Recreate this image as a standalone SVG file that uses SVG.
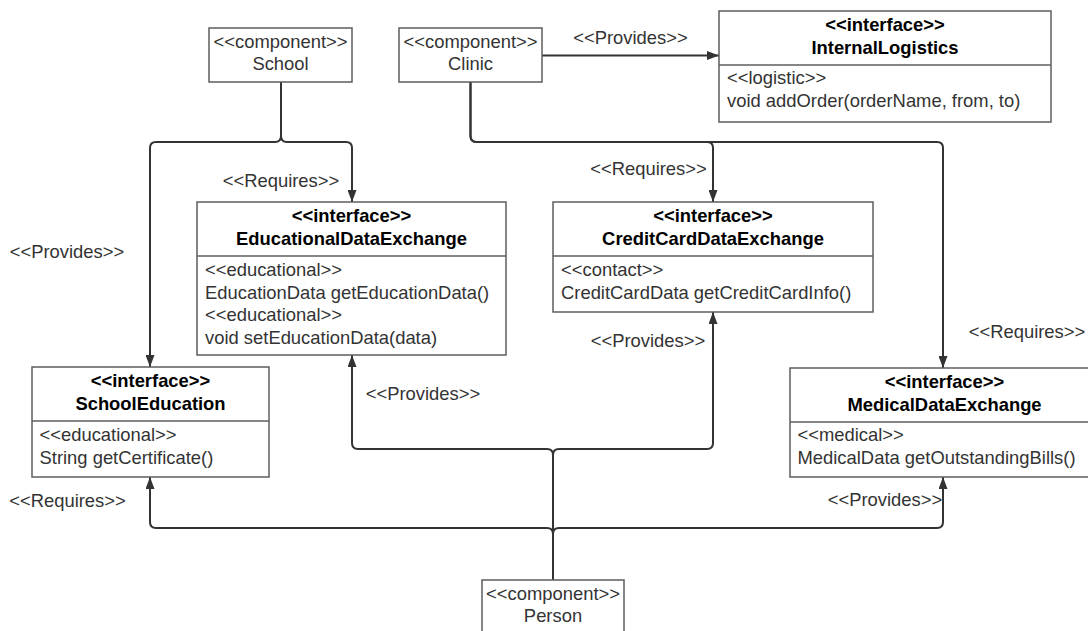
<svg xmlns="http://www.w3.org/2000/svg" width="1088" height="631" viewBox="0 0 1088 631">
  <style>
    text { font-family: "Liberation Sans", Arial, sans-serif; font-size: 18.4px; fill: #333333; }
    .title { font-weight: bold; fill: #000000; text-anchor: middle; }
    .mid { text-anchor: middle; }
    .box { fill: #ffffff; stroke: #5e5e5e; stroke-width: 1.5; }
    .sep { stroke: #5e5e5e; stroke-width: 1.5; }
    .wire { fill: none; stroke: #333333; stroke-width: 2; marker-end: url(#arrow); }
    .plain { fill: none; stroke: #333333; stroke-width: 2; }
  </style>
  <defs>
    <marker id="arrow" markerUnits="userSpaceOnUse" markerWidth="12" markerHeight="9" refX="12" refY="4.5" orient="auto">
      <path d="M0,0 L12,4.5 L0,9 z" fill="#333333"/>
    </marker>
  </defs>
  <rect width="1088" height="631" fill="#ffffff"/>

  <!-- connectors -->
  <g id="connectors">
    <!-- School -->
    <path class="wire" d="M281,82 V136 Q281,142 275,142 H156 Q150,142 150,148 V367"/>
    <path class="wire" d="M281,82 V136 Q281,142 287,142 H346 Q352,142 352,148 V202"/>
    <!-- Clinic -->
    <path class="wire" d="M542,55.5 H719"/>
    <path class="wire" d="M470.5,82 V136 Q470.5,142 476.5,142 H707 Q713,142 713,148 V202"/>
    <path class="wire" d="M470.5,82 V136 Q470.5,142 476.5,142 H937 Q943,142 943,148 V368"/>
    <!-- Person -->
    <path class="wire" d="M553,580 V455 Q553,449 547,449 H358 Q352,449 352,443 V355"/>
    <path class="wire" d="M553,580 V455 Q553,449 559,449 H707 Q713,449 713,443 V312"/>
    <path class="wire" d="M553,580 V534 Q553,528 547,528 H156 Q150,528 150,522 V477"/>
    <path class="wire" d="M553,580 V534 Q553,528 559,528 H937 Q943,528 943,522 V477"/>

    <text class="mid" x="630.5" y="44">&lt;&lt;Provides&gt;&gt;</text>
    <text class="mid" x="281" y="187">&lt;&lt;Requires&gt;&gt;</text>
    <text class="mid" x="67" y="258">&lt;&lt;Provides&gt;&gt;</text>
    <text class="mid" x="648.5" y="175">&lt;&lt;Requires&gt;&gt;</text>
    <text class="mid" x="1027" y="338">&lt;&lt;Requires&gt;&gt;</text>
    <text class="mid" x="423" y="400">&lt;&lt;Provides&gt;&gt;</text>
    <text class="mid" x="648" y="347">&lt;&lt;Provides&gt;&gt;</text>
    <text class="mid" x="67.5" y="507">&lt;&lt;Requires&gt;&gt;</text>
    <text class="mid" x="885" y="506">&lt;&lt;Provides&gt;&gt;</text>
  </g>

  <!-- components -->
  <g id="school">
    <rect class="box" x="209" y="28" width="143" height="54"/>
    <text class="mid" x="280.5" y="48">&lt;&lt;component&gt;&gt;</text>
    <text class="mid" x="280.5" y="70">School</text>
  </g>

  <g id="clinic">
    <rect class="box" x="399" y="28" width="143" height="54"/>
    <text class="mid" x="470.5" y="48">&lt;&lt;component&gt;&gt;</text>
    <text class="mid" x="470.5" y="70">Clinic</text>
  </g>

  <g id="person">
    <rect class="box" x="482" y="580" width="142" height="60"/>
    <text class="mid" x="553" y="600">&lt;&lt;component&gt;&gt;</text>
    <text class="mid" x="553" y="622">Person</text>
  </g>

  <!-- interfaces -->
  <g id="internal-logistics">
    <rect class="box" x="719" y="11" width="332" height="111"/>
    <line class="sep" x1="719" y1="65" x2="1051" y2="65"/>
    <text class="title" x="885" y="31">&lt;&lt;interface&gt;&gt;</text>
    <text class="title" x="885" y="53.5">InternalLogistics</text>
    <text x="727" y="84">&lt;&lt;logistic&gt;&gt;</text>
    <text x="727" y="106.5">void addOrder(orderName, from, to)</text>
  </g>

  <g id="educational-data-exchange">
    <rect class="box" x="197" y="202" width="309" height="153"/>
    <line class="sep" x1="197" y1="256" x2="506" y2="256"/>
    <text class="title" x="351.5" y="222">&lt;&lt;interface&gt;&gt;</text>
    <text class="title" x="351.5" y="244.5">EducationalDataExchange</text>
    <text x="205" y="276">&lt;&lt;educational&gt;&gt;</text>
    <text x="205" y="298.5">EducationData getEducationData()</text>
    <text x="205" y="321">&lt;&lt;educational&gt;&gt;</text>
    <text x="205" y="343.5">void setEducationData(data)</text>
  </g>

  <g id="credit-card-data-exchange">
    <rect class="box" x="553" y="202" width="320" height="110"/>
    <line class="sep" x1="553" y1="256" x2="873" y2="256"/>
    <text class="title" x="713" y="222">&lt;&lt;interface&gt;&gt;</text>
    <text class="title" x="713" y="244.5">CreditCardDataExchange</text>
    <text x="561" y="276">&lt;&lt;contact&gt;&gt;</text>
    <text x="561" y="298.5">CreditCardData getCreditCardInfo()</text>
  </g>

  <g id="school-education">
    <rect class="box" x="32" y="367" width="237" height="110"/>
    <line class="sep" x1="32" y1="421" x2="269" y2="421"/>
    <text class="title" x="150.5" y="387">&lt;&lt;interface&gt;&gt;</text>
    <text class="title" x="150.5" y="409.5">SchoolEducation</text>
    <text x="39.5" y="441">&lt;&lt;educational&gt;&gt;</text>
    <text x="39.5" y="463.5">String getCertificate()</text>
  </g>

  <g id="medical-data-exchange">
    <rect class="box" x="790" y="368" width="309" height="109"/>
    <line class="sep" x1="790" y1="422" x2="1099" y2="422"/>
    <text class="title" x="944.5" y="388">&lt;&lt;interface&gt;&gt;</text>
    <text class="title" x="944.5" y="410.5">MedicalDataExchange</text>
    <text x="797.5" y="441">&lt;&lt;medical&gt;&gt;</text>
    <text x="797.5" y="463.5">MedicalData getOutstandingBills()</text>
  </g>
</svg>
